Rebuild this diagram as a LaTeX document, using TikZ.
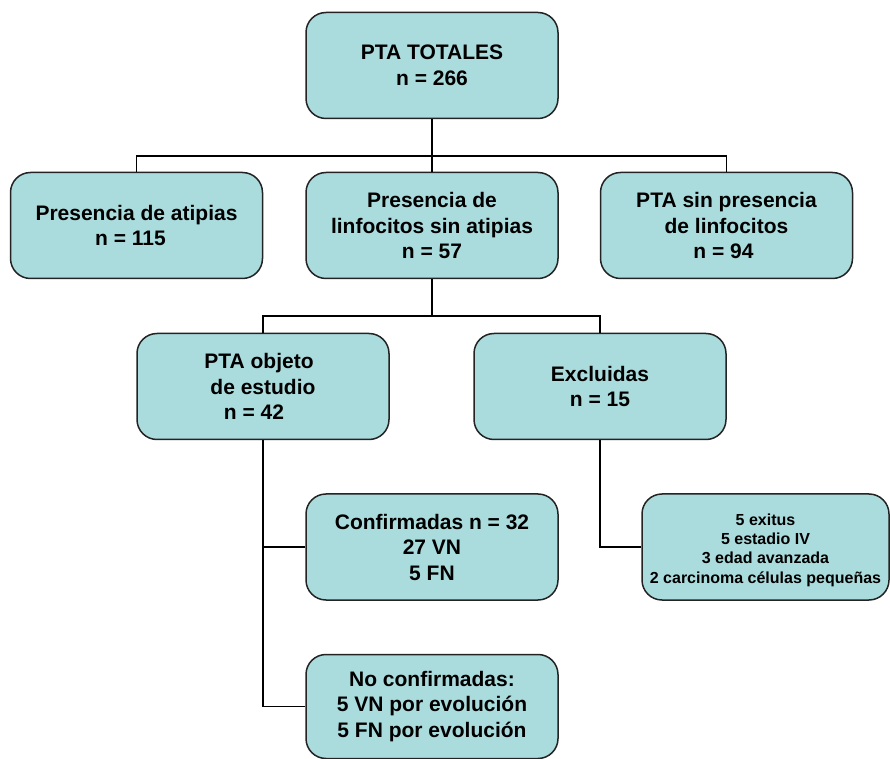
\documentclass[tikz,border=0pt]{standalone}
\usepackage{fontspec}
\setmainfont{Liberation Sans}
\definecolor{boxfill}{RGB}{171,220,221}
\definecolor{boxline}{RGB}{35,35,35}
\begin{document}
\begin{tikzpicture}[x=0.5pt,y=-0.5pt,
  box/.style={draw=boxline, line width=0.75pt, fill=boxfill, rounded corners=10pt,
    minimum width=126pt, minimum height=53pt, align=center, inner sep=0pt,
    font=\fontsize{10.5}{12.75}\selectfont\bfseries},
  smalltext/.style={font=\fontsize{8}{9.7}\selectfont\bfseries},
  conn/.style={line width=0.7pt, draw=black}]
\useasboundingbox (0,0) rectangle (890,759);

\node[box] (tot) at (432,65.5) {PTA TOTALES\\n = 266};
\node[box] (atip) at (136.5,225.5) {Presencia de atipias\\n = 115\hspace*{6pt}};
\node[box] (linf) at (432,225.5) {Presencia de\\linfocitos sin atipias\\n = 57};
\node[box] (sinl) at (726.5,225.5) {PTA sin presencia\\de linfocitos\\n = 94\hspace*{3pt}};
\node[box] (obj) at (263,386.5) {PTA objeto\hspace*{4pt}\\de estudio\\n = 42\hspace*{9pt}};
\node[box] (excl) at (600,386.5) {Excluidas\\n = 15};
\node[box] (conf) at (432,547) {Confirmadas n = 32\\27 VN\\5 FN};
\node[box, minimum width=123.5pt, minimum height=53pt] (exit) at (765.5,547) {};
\node[smalltext, align=center] (exittxt) at ([yshift=-1.5pt]exit.center) {5 exitus\\5 estadio IV\\3 edad avanzada\\2 carcinoma células pequeñas};
\node[box, minimum height=52pt] (noconf) at (432,706.5) {No confirmadas:\\5 VN por evolución\\5 FN por evolución};

\coordinate (j1) at (432,156);
\coordinate (j2) at (432,316);
\draw[conn] (tot.south) -- (j1);
\draw[conn] (atip.north) |- (j1);
\draw[conn] (sinl.north) |- (j1);
\draw[conn] (linf.north) -- (j1);
\draw[conn] (linf.south) -- (j2);
\draw[conn] (obj.north) |- (j2);
\draw[conn] (excl.north) |- (j2);
\draw[conn] (obj.south) |- (conf.west);
\draw[conn] (obj.south) |- (noconf.west);
\draw[conn] (excl.south) |- (exit.west);
\end{tikzpicture}
\end{document}
